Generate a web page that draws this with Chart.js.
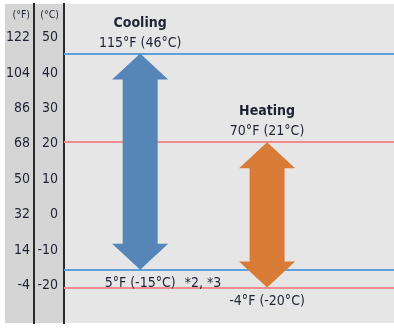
<!DOCTYPE html>
<html>
<head>
<meta charset="utf-8">
<script src="https://cdn.jsdelivr.net/npm/chart.js@4"></script>
<style>
  html, body { margin: 0; padding: 0; background: #fff; }
  #wrap { width: 394px; height: 329px; position: relative; }
</style>
</head>
<body>
<div id="wrap"><canvas id="rangeChart"></canvas></div>
<script>
// Operating ranges (°C) per mode
const modes = ['Cooling', 'Heating'];
const rangeHigh = [46, 21];
const rangeLow = [-15, -20];
const highLabels = ['115°F (46°C)', '70°F (21°C)'];
const lowLabels = ['5°F (-15°C)', '-4°F (-20°C)'];
const lowNotes = ['*2, *3', ''];

// Celsius ticks and the matching Fahrenheit labels
const celsiusTicks = [50, 40, 30, 20, 10, 0, -10, -20];
const fahrenheitTicks = [122, 104, 86, 68, 50, 32, 14, -4];

const arrowColors = ['#5686b8', '#d87b37'];
const limitColors = ['#5fa0d8', '#ef8b91'];
const textColor = '#1f2233';
const fontFamily = '"DejaVu Sans Condensed", "DejaVu Sans", sans-serif';

// Panel backgrounds, limit lines, arrows and their labels
const rangePanel = {
    id: 'rangePanel',
    beforeDraw(chart) {
        const { ctx, chartArea: a, scales } = chart;
        ctx.save();
        ctx.fillStyle = '#d5d5d5';
        ctx.fillRect(scales.yF.left, a.top, a.left - scales.yF.left, a.bottom - a.top);
        ctx.fillStyle = '#e6e6e7';
        ctx.fillRect(a.left, a.top, a.right - a.left, a.bottom - a.top);
        ctx.restore();
    },
    beforeDatasetsDraw(chart) {
        const { ctx, chartArea: a, scales: { y } } = chart;
        ctx.save();
        ctx.lineWidth = 2;
        modes.forEach((m, i) => {
            ctx.strokeStyle = limitColors[i];
            [rangeHigh[i], rangeLow[i]].forEach(v => {
                const py = Math.round(y.getPixelForValue(v));
                ctx.beginPath();
                ctx.moveTo(a.left, py);
                ctx.lineTo(a.right, py);
                ctx.stroke();
            });
        });
        ctx.restore();
    },
    afterDatasetsDraw(chart) {
        const { ctx, chartArea: a, scales } = chart;
        const meta = chart.getDatasetMeta(0);
        ctx.save();
        meta.data.forEach((bar, i) => {
            const top = Math.min(bar.y, bar.base);
            const bottom = Math.max(bar.y, bar.base);
            const half = bar.width / 2;
            const headHalf = half * 1.6;
            const headLen = 26;
            const cx = bar.x;

            ctx.fillStyle = arrowColors[i];
            ctx.beginPath();
            ctx.moveTo(cx, top);
            ctx.lineTo(cx + headHalf, top + headLen);
            ctx.lineTo(cx + half, top + headLen);
            ctx.lineTo(cx + half, bottom - headLen);
            ctx.lineTo(cx + headHalf, bottom - headLen);
            ctx.lineTo(cx, bottom);
            ctx.lineTo(cx - headHalf, bottom - headLen);
            ctx.lineTo(cx - half, bottom - headLen);
            ctx.lineTo(cx - half, top + headLen);
            ctx.lineTo(cx - headHalf, top + headLen);
            ctx.closePath();
            ctx.fill();

            ctx.fillStyle = textColor;
            ctx.textBaseline = 'alphabetic';
            ctx.textAlign = 'center';
            ctx.font = `bold 14px ${fontFamily}`;
            ctx.fillText(modes[i], cx, top - 27);
            ctx.font = `14px ${fontFamily}`;
            ctx.fillText(highLabels[i], cx, top - 7);

            const w = ctx.measureText(lowLabels[i]).width;
            ctx.textAlign = 'left';
            ctx.fillText(lowLabels[i], cx - w / 2, bottom + 17);
            if (lowNotes[i]) {
                ctx.fillText(lowNotes[i], cx + w / 2 + 9, bottom + 17);
            }
        });

        // unit headers above the tick columns
        ctx.fillStyle = textColor;
        ctx.font = `10.5px ${fontFamily}`;
        ctx.textAlign = 'right';
        ctx.textBaseline = 'middle';
        ctx.fillText('(°F)', scales.yF.right - 4, a.top + 11);
        ctx.fillText('(°C)', scales.y.right - 5, a.top + 11);
        ctx.restore();
    }
};

const tickFont = { family: fontFamily, size: 14 };

// Fixed-width axis column with no extra vertical padding
function fitColumn(width) {
    return s => {
        s.width = width;
        s.paddingTop = 0;
        s.paddingBottom = 0;
    };
}

new Chart(document.getElementById('rangeChart'), {
    type: 'bar',
    data: {
        datasets: [{
            data: modes.map((m, i) => ({ x: i, y: [rangeLow[i], rangeHigh[i]] })),
            backgroundColor: 'rgba(0,0,0,0)',
            barThickness: 35
        }]
    },
    options: {
        responsive: true,
        maintainAspectRatio: false,
        animation: false,
        layout: { padding: { left: 5, top: 4, right: 0, bottom: 6 } },
        plugins: { legend: { display: false }, tooltip: { enabled: false } },
        scales: {
            x: { type: 'linear', min: -0.6, max: 2.0, offset: false, display: false },
            y: {
                min: -30, max: 60,
                position: 'left',
                weight: 1,
                afterBuildTicks: s => { s.ticks = celsiusTicks.map(v => ({ value: v })); },
                afterFit: fitColumn(30),
                grid: { display: false, drawTicks: false },
                border: { display: true, color: '#2a2a2a', width: 2 },
                ticks: { color: textColor, font: tickFont, padding: 6, labelOffset: -2 }
            },
            yF: {
                type: 'linear',
                min: -30, max: 60,
                position: 'left',
                weight: 2,
                afterBuildTicks: s => { s.ticks = celsiusTicks.map(v => ({ value: v })); },
                afterFit: fitColumn(29),
                grid: { display: false, drawTicks: false },
                border: { display: true, color: '#2a2a2a', width: 2 },
                ticks: {
                    color: textColor, font: tickFont, padding: 4, labelOffset: -2,
                    callback: v => fahrenheitTicks[celsiusTicks.indexOf(v)]
                }
            }
        }
    },
    plugins: [rangePanel]
});
</script>
</body>
</html>
